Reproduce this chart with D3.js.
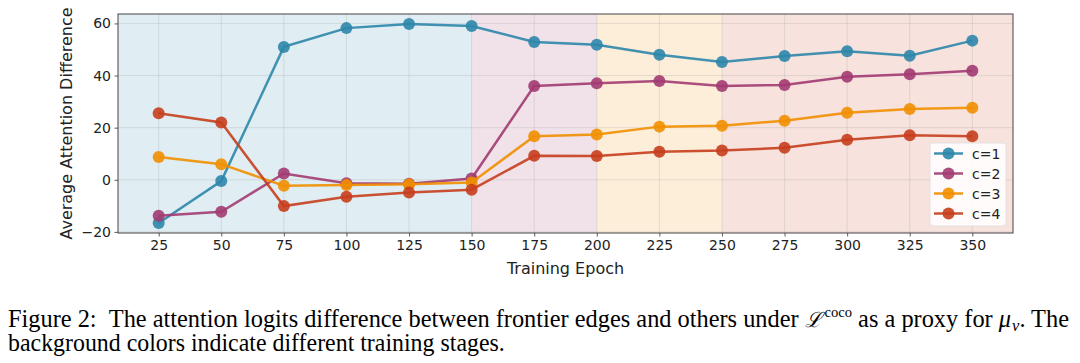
<!DOCTYPE html>
<html>
<head>
<meta charset="utf-8">
<script src="https://cdn.jsdelivr.net/npm/d3@7"></script>
<style>
  body { margin: 0; background: #fff; }
  svg { display: block; }
  .tick text { font-family: "DejaVu Sans", sans-serif; font-size: 14px; fill: #222; }
</style>
</head>
<body>
<div id="chart"></div>
<script>
const epochs = [25, 50, 75, 100, 125, 150, 175, 200, 225, 250, 275, 300, 325, 350];
const c1 = [-16.6, -0.5, 51.0, 58.2, 59.8, 59.0, 52.9, 51.8, 48.0, 45.2, 47.5, 49.3, 47.6, 53.4];
const c2 = [-13.8, -12.3, 2.4, -1.3, -1.5, 0.5, 36.0, 37.0, 37.9, 36.0, 36.4, 39.5, 40.5, 41.8];
const c3 = [8.7, 6.0, -2.3, -2.0, -1.7, -1.0, 16.7, 17.4, 20.4, 20.7, 22.7, 25.7, 27.2, 27.6];
const c4 = [25.5, 22.0, -10.1, -6.5, -4.9, -3.8, 9.2, 9.1, 10.8, 11.2, 12.3, 15.4, 17.1, 16.7];
const seriesNames = ['c=1', 'c=2', 'c=3', 'c=4'];
const colors = ['#2E86AB', '#A23B72', '#F18F01', '#C73E1D'];
const stages = [[0, 150], [150, 200], [200, 250], [250, 400]];
const xTicks = epochs;
const yTicks = [-20, 0, 20, 40, 60];

const W = 1080, H = 363;
const margin = { top: 14, right: 67, bottom: 130, left: 118 };
const width = W - margin.left - margin.right,
      height = H - margin.top - margin.bottom;

const svg = d3.select('#chart').append('svg')
    .attr('width', W)
    .attr('height', H);

let x = d3.scaleLinear().domain([8.75, 366.25]).range([0, width]);
let y = d3.scaleLinear().domain([-20.42, 63.62]).range([height, 0]);

let g = svg.append('g')
    .attr('transform', `translate(${margin.left},${margin.top})`);

g.append('clipPath').attr('id', 'clip')
    .append('rect').attr('width', width).attr('height', height);

let plot = g.append('g').attr('clip-path', 'url(#clip)');

// training stage backgrounds
plot.selectAll('.stage')
    .data(stages)
    .enter()
    .append('rect')
    .attr('x', d => x(d[0]))
    .attr('width', d => x(d[1]) - x(d[0]))
    .attr('y', 0)
    .attr('height', height)
    .attr('fill', (d, i) => colors[i])
    .attr('fill-opacity', 0.15);

// grid
plot.selectAll('.gx').data(xTicks).enter().append('line')
    .attr('x1', d => x(d)).attr('x2', d => x(d))
    .attr('y1', 0).attr('y2', height)
    .attr('stroke', '#b0b0b0').attr('stroke-opacity', 0.4).attr('stroke-width', 0.8);
plot.selectAll('.gy').data(yTicks).enter().append('line')
    .attr('y1', d => y(d)).attr('y2', d => y(d))
    .attr('x1', 0).attr('x2', width)
    .attr('stroke', '#b0b0b0').attr('stroke-opacity', 0.4).attr('stroke-width', 0.8);

const series = [c1, c2, c3, c4];
let line = d3.line()
    .x((d, i) => x(epochs[i]))
    .y(d => y(d));

series.forEach((vals, k) => {
    plot.append('path')
        .datum(vals)
        .attr('fill', 'none')
        .attr('stroke', colors[k])
        .attr('stroke-opacity', 0.9)
        .attr('stroke-width', 2.5)
        .attr('d', line);
    plot.selectAll('.dot' + k)
        .data(vals)
        .enter()
        .append('circle')
        .attr('cx', (d, i) => x(epochs[i]))
        .attr('cy', d => y(d))
        .attr('r', 6)
        .attr('fill', colors[k])
        .attr('fill-opacity', 0.9);
});

// axes
let xAxis = g.append('g')
    .attr('transform', `translate(0,${height})`)
    .call(d3.axisBottom(x).tickValues(xTicks).tickSize(3.5).tickPadding(3.5));
let yAxis = g.append('g')
    .call(d3.axisLeft(y).tickValues(yTicks).tickSize(3.5).tickPadding(3.5)
        .tickFormat(d => d < 0 ? '\u2212' + Math.abs(d) : d));
[xAxis, yAxis].forEach(a => {
    a.select('.domain').remove();
    a.selectAll('.tick line').attr('stroke', '#333').attr('stroke-width', 0.8);
});

g.append('rect')
    .attr('width', width).attr('height', height)
    .attr('fill', 'none').attr('stroke', '#444').attr('stroke-width', 1);

g.append('text')
    .attr('x', width / 2).attr('y', 260)
    .attr('text-anchor', 'middle')
    .attr('font-family', 'DejaVu Sans').attr('font-size', 16).attr('fill', '#222')
    .text('Training Epoch');

g.append('text')
    .attr('transform', `translate(${72 - margin.left},${height / 2}) rotate(-90)`)
    .attr('text-anchor', 'middle')
    .attr('font-family', 'DejaVu Sans').attr('font-size', 16).attr('fill', '#222')
    .text('Average Attention Difference');

// legend
let lg = svg.append('g').attr('transform', 'translate(930,143)');
lg.append('rect')
    .attr('width', 76).attr('height', 83).attr('rx', 3)
    .attr('fill', '#fff').attr('fill-opacity', 0.85)
    .attr('stroke', '#ddd').attr('stroke-width', 0.8);
seriesNames.forEach((name, k) => {
    let row = lg.append('g').attr('transform', `translate(0,${10.5 + k * 20})`);
    row.append('line')
        .attr('x1', 4).attr('x2', 33)
        .attr('stroke', colors[k]).attr('stroke-opacity', 0.9).attr('stroke-width', 2.5);
    row.append('circle')
        .attr('cx', 18.5).attr('r', 6)
        .attr('fill', colors[k]).attr('fill-opacity', 0.9);
    row.append('text')
        .attr('x', 42).attr('y', 5)
        .attr('font-family', 'DejaVu Sans').attr('font-size', 14).attr('fill', '#222')
        .text(name);
});

// caption: pieces laid out one after another, then condensed to the figure's width
const capFont = 'Liberation Serif, serif';
const capPieces = [
    { t: 'Figure 2:\u2002The attention logits difference between frontier edges and others under\u00a0', size: 25, dy: 0 },
    { t: '\u2112', size: 21, dy: 0, italic: true, family: 'DejaVu Serif', gap: 3 },
    { t: 'coco', size: 15, dy: -10 },
    { t: '\u00a0as a proxy for\u00a0', size: 25, dy: 0 },
    { t: '\u03bc', size: 25, dy: 0, italic: true, gap: 1 },
    { t: 'v', size: 17, dy: 4, italic: true },
    { t: '. The', size: 25, dy: 0 }
];
let cap1 = svg.append('g');
let cx = 0;
capPieces.forEach(p => {
    let t = cap1.append('text')
        .attr('x', cx).attr('y', p.dy)
        .attr('font-family', p.family || capFont)
        .attr('font-style', p.italic ? 'italic' : 'normal')
        .attr('font-size', p.size).attr('fill', '#000')
        .text(p.t);
    cx += t.node().getComputedTextLength() + (p.gap || 0);
});
cap1.attr('transform', `translate(8,327) scale(${1061 / cx},1)`);

let cap2 = svg.append('text')
    .attr('font-family', capFont).attr('font-size', 25).attr('fill', '#000')
    .text('background colors indicate different training stages.');
cap2.attr('transform', `translate(8,350.5) scale(${497 / cap2.node().getComputedTextLength()},1)`);
</script>
</body>
</html>
